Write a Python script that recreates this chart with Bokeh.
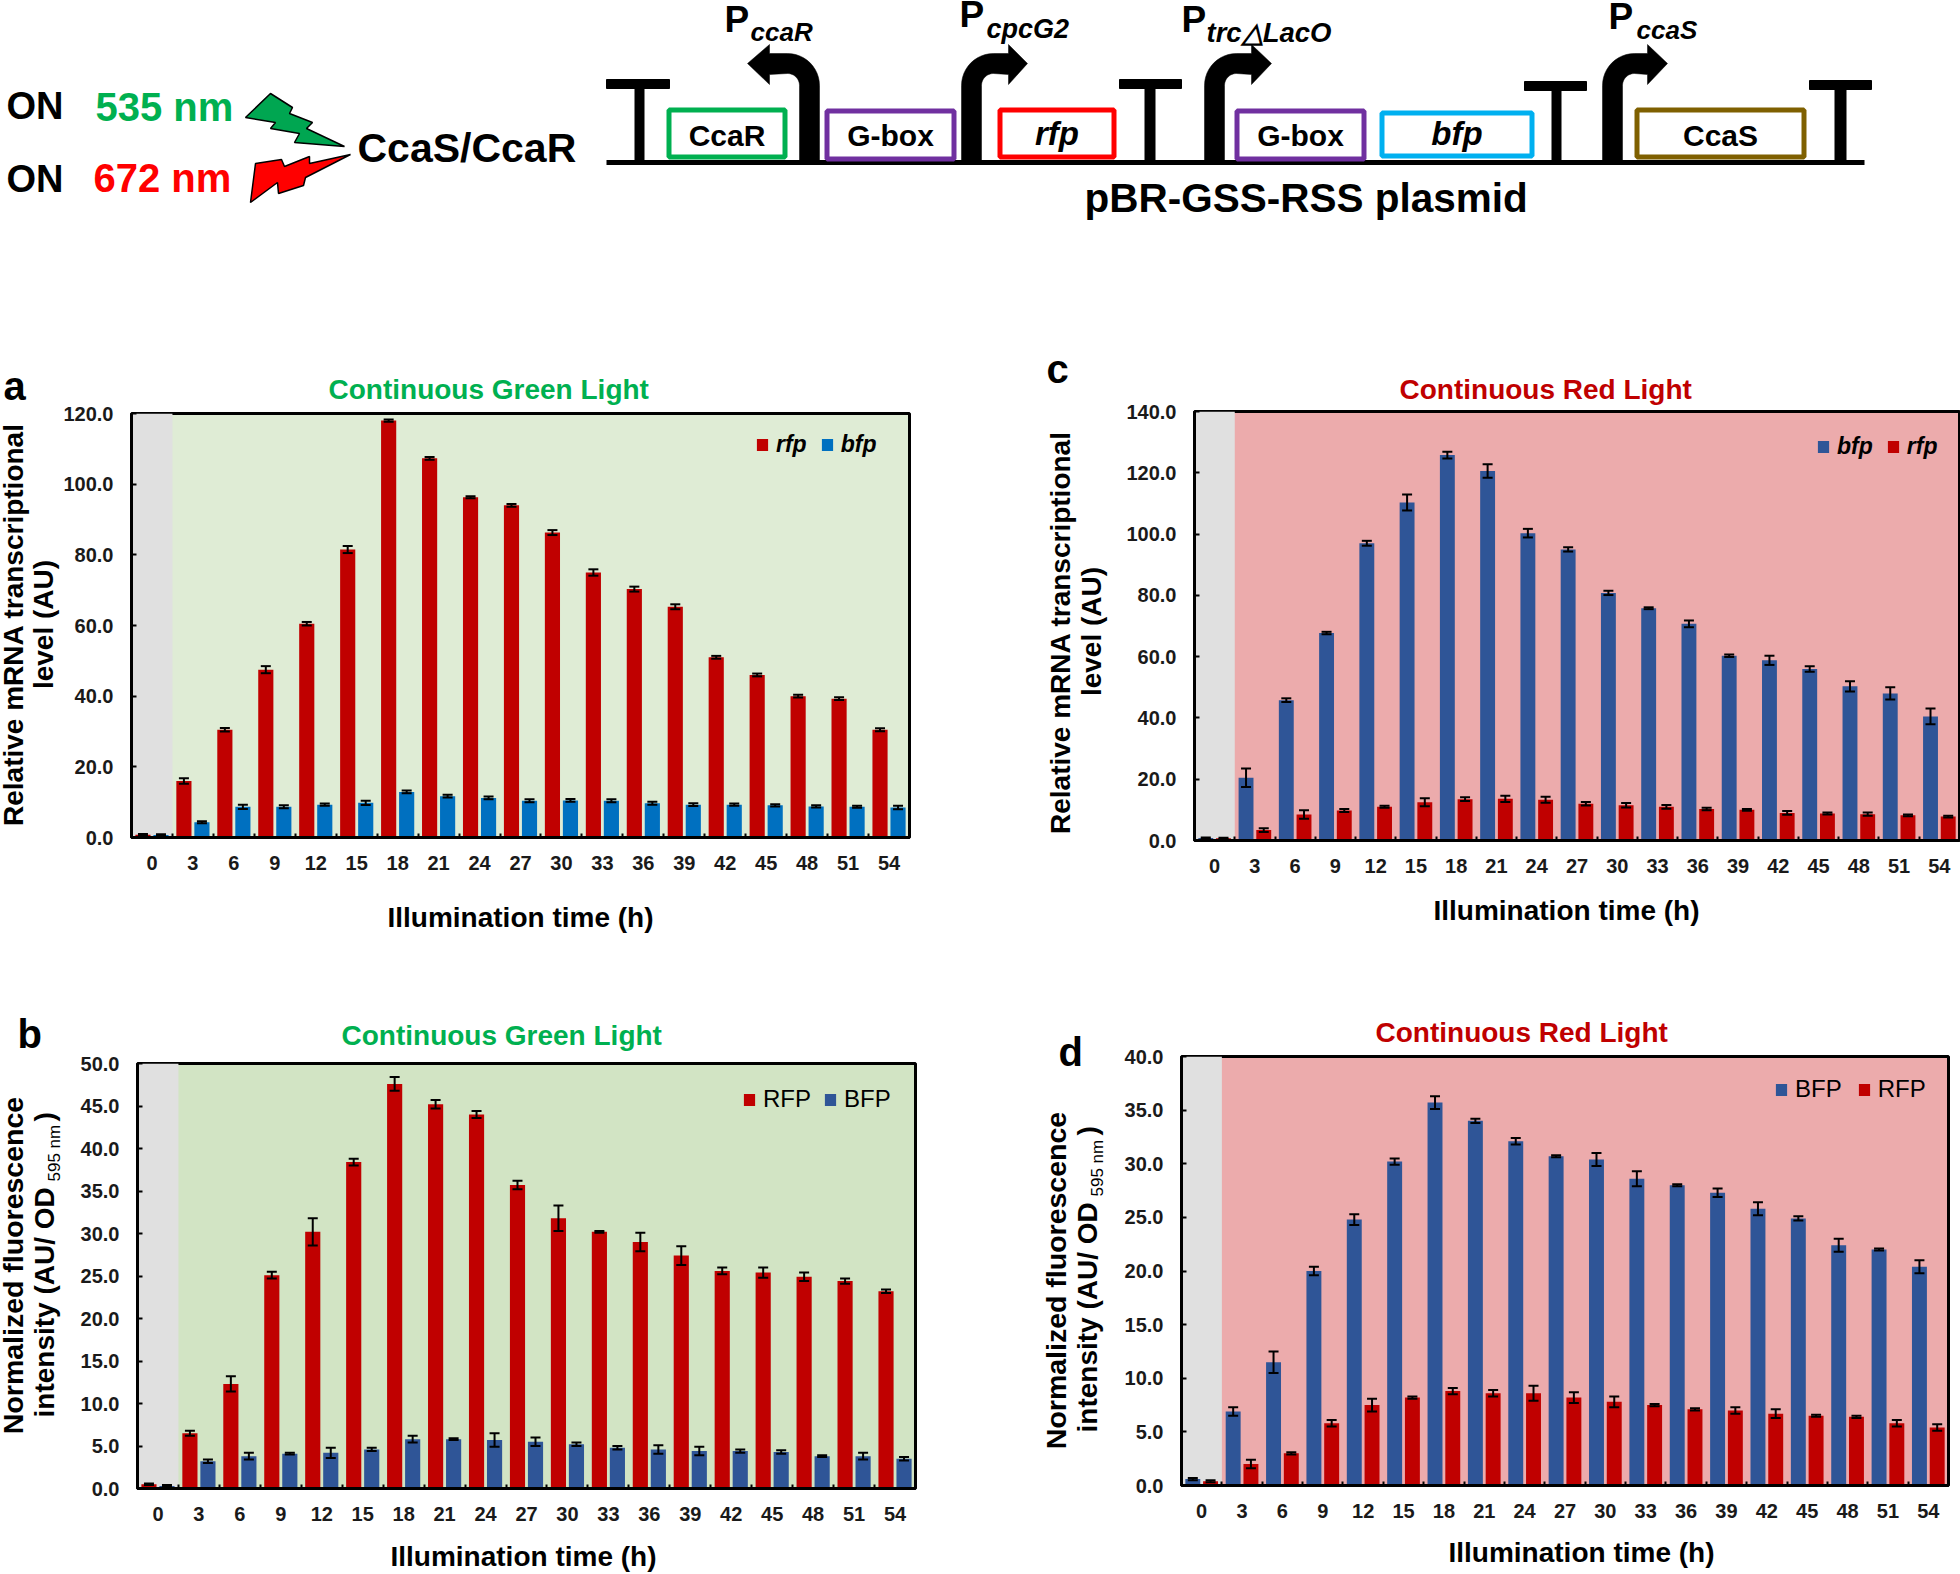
import math
from bokeh.plotting import figure
from bokeh.layouts import column, row
from bokeh.models import (ColumnDataSource, FixedTicker, Label, Legend, LegendItem, Whisker, TeeHead,
                          BoxAnnotation, Title, NumeralTickFormatter)
from bokeh.embed import file_html
from bokeh.resources import INLINE

FONT = "Liberation Sans"
hours = ["0","3","6","9","12","15","18","21","24","27","30","33","36","39","42","45","48","51","54"]

# panel a
a_rfp = [0.8,16,30.5,47.5,60.5,81.5,118,107.3,96.3,94,86.3,75,70.3,65.3,51,46,40,39.3,30.5]
a_rfp_err = [0.2,0.8,0.5,1.0,0.5,1.0,0.3,0.4,0.3,0.4,0.7,0.9,0.7,0.7,0.4,0.4,0.4,0.4,0.4]
a_bfp = [0.7,4.3,8.7,8.7,9.3,9.8,12.9,11.7,11.2,10.4,10.5,10.4,9.7,9.3,9.3,9.1,8.8,8.7,8.5]
a_bfp_err = [0.2,0.3,0.6,0.4,0.3,0.6,0.4,0.4,0.4,0.4,0.4,0.4,0.4,0.4,0.3,0.3,0.3,0.3,0.5]
# panel b
b_rfp = [0.5,6.5,12.3,25.1,30.2,38.4,47.6,45.2,44,35.7,31.8,30.2,29,27.4,25.6,25.4,24.9,24.4,23.2]
b_rfp_err = [0.1,0.3,0.9,0.4,1.6,0.4,0.8,0.5,0.4,0.5,1.5,0.1,1.1,1.1,0.4,0.6,0.5,0.3,0.2]
b_bfp = [0.3,3.2,3.8,4.1,4.2,4.6,5.8,5.8,5.7,5.5,5.2,4.8,4.6,4.4,4.4,4.3,3.8,3.8,3.5]
b_bfp_err = [0.1,0.2,0.4,0.1,0.6,0.2,0.4,0.1,0.8,0.5,0.2,0.2,0.5,0.5,0.2,0.2,0.1,0.4,0.2]
# panel c
c_bfp = [0.8,20.5,45.8,67.7,97,110.3,125.8,120.6,100.3,95,80.8,75.8,70.7,60.3,58.8,56,50.3,48,40.5]
c_bfp_err = [0.2,3,0.6,0.4,0.8,2.6,1.1,2.2,1.4,0.7,0.7,0.3,1.1,0.4,1.5,0.9,1.7,2,2.6]
c_rfp = [0.7,3.4,8.5,9.8,11,12.5,13.5,13.6,13.3,12,11.5,11,10.3,10,9,8.8,8.6,8.2,7.8]
c_rfp_err = [0.2,0.6,1.4,0.5,0.3,1.3,0.6,1.0,1.0,0.6,0.7,0.6,0.4,0.3,0.6,0.3,0.5,0.3,0.3]
# panel d
d_bfp = [0.6,6.9,11.5,20,24.8,30.2,35.7,34,32.1,30.7,30.4,28.6,28,27.3,25.8,24.9,22.4,22,20.4]
d_bfp_err = [0.1,0.4,1.0,0.4,0.5,0.3,0.6,0.2,0.3,0.1,0.6,0.7,0.1,0.4,0.6,0.2,0.6,0.1,0.6]
d_rfp = [0.4,2,3,5.8,7.5,8.2,8.8,8.6,8.6,8.2,7.8,7.5,7.1,7,6.7,6.5,6.4,5.8,5.4]
d_rfp_err = [0.1,0.4,0.1,0.3,0.6,0.1,0.3,0.3,0.7,0.5,0.5,0.1,0.1,0.3,0.4,0.1,0.1,0.3,0.3]

a_yticks = [0,20,40,60,80,100,120]
b_yticks = [0,5,10,15,20,25,30,35,40,45,50]
c_yticks = [0,20,40,60,80,100,120,140]
d_yticks = [0,5,10,15,20,25,30,35,40]

RED = "#C00000"; BLUE = "#0070C0"; NAVY = "#2F5597"
GREEN_TXT = "#00B050"
GREEN_BG1 = "#DFECD5"; GREEN_BG2 = "#D2E4C4"; RED_BG = "#ECABAC"; GRAY = "#E0E0E0"

ROW2_Y, LEFT_W = 985, 1030
TOTAL_W, TOTAL_H = 1960, 1574
K = 0.38

# the full-page figure carries the schematic and every free text; the panels sit on top of it
d = figure(width=TOTAL_W, height=TOTAL_H, x_range=(0, TOTAL_W), y_range=(TOTAL_H, 0), toolbar_location=None,
           output_backend="svg", min_border=0, outline_line_color=None, x_axis_location=None, y_axis_location=None)
d.grid.visible = False


def lab(x, y, text, size, color="black", bold=False, italic=False, angle=0.0, align="left"):
    style = "bold italic" if bold and italic else "bold" if bold else "italic" if italic else "normal"
    if angle:
        x -= K * size
    else:
        y -= K * size
    d.add_layout(Label(x=x, y=TOTAL_H - y, x_units="screen", y_units="screen", text=text,
                       text_font=FONT, text_font_size=f"{size}px", text_font_style=style,
                       text_color=color, text_align=align, text_baseline="alphabetic", angle=angle))


def panel(ox, oy, w, h, box, ymax, yticks, first, second, names, colors, bg, title, tcolor, toff, tstand,
          legend_pos, leg_style, leg_spacing):
    L, R, T, B = box
    p = figure(width=w, height=h, x_range=(0, 19), y_range=(0, ymax), toolbar_location=None,
               output_backend="svg", frame_align=False, min_border_left=L - ox, min_border_right=ox + w - R,
               min_border_top=T - oy, min_border_bottom=oy + h - B)
    p.background_fill_color = bg
    p.border_fill_color = None
    p.grid.visible = False
    p.outline_line_color = "black"
    p.outline_line_width = 3
    p.add_layout(BoxAnnotation(left=0, right=1, fill_color=GRAY, fill_alpha=1, line_alpha=0, level="underlay"))
    centers = [i + 0.5 for i in range(19)]
    rends = []
    for off, (vals, errs), col in zip((-0.22, 0.22), (first, second), colors):
        xs = [c + off for c in centers]
        src = ColumnDataSource(dict(x=xs, top=vals, up=[v + e for v, e in zip(vals, errs)],
                                    lo=[v - e for v, e in zip(vals, errs)]))
        r = p.vbar(x="x", top="top", bottom=0, width=0.37, fill_color=col, line_color=None, source=src)
        rends.append(r)
        p.add_layout(Whisker(base="x", upper="up", lower="lo", source=src, line_color="black", line_width=2,
                             level="overlay",
                             upper_head=TeeHead(size=10, line_color="black", line_width=2),
                             lower_head=TeeHead(size=10, line_color="black", line_width=2)))
    xa = p.xaxis[0]
    xa.ticker = FixedTicker(ticks=centers, minor_ticks=list(range(20)))
    xa.major_label_overrides = {c: t for c, t in zip(centers, hours)}
    xa.major_tick_in = 0; xa.major_tick_out = 0
    xa.minor_tick_in = 4; xa.minor_tick_out = 0
    xa.minor_tick_line_color = "black"; xa.minor_tick_line_width = 2
    xa.axis_line_width = 3
    xa.major_label_text_font = FONT; xa.major_label_text_font_size = "20px"
    xa.major_label_text_font_style = "bold"; xa.major_label_text_color = "#1a1a1a"
    xa.major_label_standoff = 18
    ya = p.yaxis[0]
    ya.ticker = FixedTicker(ticks=yticks)
    ya.formatter = NumeralTickFormatter(format="0.0")
    ya.major_tick_in = 5; ya.major_tick_out = 0; ya.major_tick_line_width = 2
    ya.minor_tick_in = 0; ya.minor_tick_out = 0
    ya.axis_line_width = 3
    ya.major_label_text_font = FONT; ya.major_label_text_font_size = "20px"
    ya.major_label_text_font_style = "bold"; ya.major_label_text_color = "#1a1a1a"
    ya.major_label_standoff = 18
    p.title = Title(text=title, align="left", offset=toff, text_color=tcolor, text_font=FONT,
                    text_font_size="28px", text_font_style="bold", standoff=tstand)
    items = [LegendItem(label=n, renderers=[r]) for n, r in zip(names, rends)]
    leg = Legend(items=items, orientation="horizontal", location=legend_pos, padding=0, margin=0,
                 spacing=leg_spacing, glyph_width=14, glyph_height=15, label_standoff=7,
                 background_fill_alpha=0, border_line_alpha=0, label_text_font=FONT,
                 label_text_font_size="24px" if leg_style == "normal" else "23px",
                 label_text_font_style=leg_style, label_text_color="black")
    p.add_layout(leg)
    return p


# panel a
pa = panel(0, 0, LEFT_W, ROW2_Y, (131, 909, 413, 837), 120, a_yticks,
           (a_rfp, a_rfp_err), (a_bfp, a_bfp_err), ["rfp", "bfp"], (RED, BLUE), GREEN_BG1,
           "Continuous Green Light", GREEN_TXT, 197, 18, (624, 379), "bold italic", 13)
lab(3, 401, "a", 40, bold=True)
lab(24, 624, "Relative mRNA transcriptional", 28, bold=True, angle=math.pi / 2, align="center")
lab(54, 624, "level (AU)", 28, bold=True, angle=math.pi / 2, align="center")
lab(520, 928, "Illumination time (h)", 28, bold=True, align="center")

# panel c
pc = panel(LEFT_W, 0, TOTAL_W - LEFT_W, ROW2_Y, (1194, 1959, 411, 840), 140, c_yticks,
           (c_bfp, c_bfp_err), (c_rfp, c_rfp_err), ["bfp", "rfp"], (NAVY, RED), RED_BG,
           "Continuous Red Light", RED, 205, 14, (622, 380), "bold italic", 13)
lab(1046, 384, "c", 40, bold=True)
lab(1071, 632, "Relative mRNA transcriptional", 28, bold=True, angle=math.pi / 2, align="center")
lab(1102, 631, "level (AU)", 28, bold=True, angle=math.pi / 2, align="center")
lab(1566, 921, "Illumination time (h)", 28, bold=True, align="center")

# panel b
pb = panel(0, ROW2_Y, LEFT_W, TOTAL_H - ROW2_Y, (137, 915, 1063, 1488), 50, b_yticks,
           (b_rfp, b_rfp_err), (b_bfp, b_bfp_err), ["RFP", "BFP"], (RED, NAVY), GREEN_BG2,
           "Continuous Green Light", GREEN_TXT, 204, 25, (605, 375), "normal", 12)
lab(17, 1049, "b", 40, bold=True)
lab(23, 1265, "Normalized fluorescence", 28.5, bold=True, angle=math.pi / 2, align="center")
lab(55, 1417, "intensity (AU/ OD", 28, bold=True, angle=math.pi / 2)
lab(60, 1181, "595 nm", 17, angle=math.pi / 2)
lab(55, 1121, ")", 28, bold=True, angle=math.pi / 2)
lab(523, 1567, "Illumination time (h)", 28, bold=True, align="center")

# panel d
pd_ = panel(LEFT_W, ROW2_Y, TOTAL_W - LEFT_W, TOTAL_H - ROW2_Y, (1181, 1948, 1056, 1485), 40, d_yticks,
            (d_bfp, d_bfp_err), (d_rfp, d_rfp_err), ["BFP", "RFP"], (NAVY, RED), RED_BG,
            "Continuous Red Light", RED, 194, 18, (593, 382), "normal", 15)
lab(1058, 1067, "d", 40, bold=True)
lab(1066, 1280, "Normalized fluorescence", 28.5, bold=True, angle=math.pi / 2, align="center")
lab(1098, 1432, "intensity (AU/ OD", 28, bold=True, angle=math.pi / 2)
lab(1103, 1196, "595 nm", 17, angle=math.pi / 2)
lab(1098, 1135, ")", 28, bold=True, angle=math.pi / 2)
lab(1581, 1563, "Illumination time (h)", 28, bold=True, align="center")

# schematic
bolt_green_x = [270,292,289,312,306,344,294,299,270,275,245]
bolt_green_y = [93,107,113,122,128,146,142,133,128,122,117]
bolt_red_x = [255,281,284,309,309,350,305,303,278,277,250]
bolt_red_y = [163,159,166,156,163,154,177,185,193,182,202]
d.patch(bolt_green_x, bolt_green_y, fill_color="#00A651", line_color="black", line_width=1.5)
d.patch(bolt_red_x, bolt_red_y, fill_color="#FF0000", line_color="black", line_width=1.5)

d.quad(left=[606], right=[1864], top=[159.5], bottom=[164.5], fill_color="black", line_color=None)
term_x = [(606,669,634,644),(1119,1181,1144,1155),(1524,1586,1551,1561),(1809,1871,1834,1846)]
term_y = [79,79,81,80]
for (l, r, sl, sr), ty in zip(term_x, term_y):
    d.quad(left=[l], right=[r], top=[ty], bottom=[ty + 9], fill_color="black", line_color="black", line_width=1)
    d.quad(left=[sl], right=[sr], top=[ty], bottom=[162], fill_color="black", line_color=None)


def bent(x0, xback, xtip, s=1, R=32, ytop=53, yin=74, ymid=63, hy0=44, hy1=84, base=162):
    x1 = x0 + s * 20
    cx, cy = x0 + s * R, ytop + R
    r = R - 20
    xs = [x0]; ys = [base]
    for i in range(13):
        t = math.pi * i / 24
        xs.append(cx - s * R * math.cos(t)); ys.append(cy - R * math.sin(t))
    xs += [xback, xback, xtip, xback, xback]; ys += [ytop, hy0, ymid, hy1, yin]
    for i in range(12, -1, -1):
        t = math.pi * i / 24
        xs.append(cx - s * r * math.cos(t)); ys.append(cy - r * math.sin(t))
    xs.append(x1); ys.append(base)
    return xs, ys


for args in [(819, 769, 747, -1), (961, 1008, 1027, 1), (1204, 1251, 1271, 1), (1602, 1647, 1667, 1)]:
    xs, ys = bent(*args)
    d.patch(xs, ys, fill_color="black", line_color="black", line_width=0.5)

boxes = [("CcaR",666,787,107,159,"#00B050",False,30),("G-box",824,956,108,161,"#7030A0",False,30),
         ("rfp",997,1116,107,159,"#FF0000",True,33),("G-box",1234,1366,108,161,"#7030A0",False,30),
         ("bfp",1379,1534,110,158,"#00B0F0",True,33),("CcaS",1634,1806,107,159,"#7F6000",False,30)]
for name, l, r, t, b, col, it, fs in boxes:
    d.quad(left=[l + 2.5], right=[r - 2.5], top=[t + 2.5], bottom=[b - 2.5], fill_color="white",
           line_color=col, line_width=5)
    lab((l + r) / 2, 146, name, fs, bold=True, italic=it, align="center")

lab(6, 120, "ON", 38, bold=True)
lab(6, 193, "ON", 38, bold=True)
lab(95, 122, "535 nm", 40, color="#00B050", bold=True)
lab(93, 193, "672 nm", 40, color="#FF0000", bold=True)
lab(357, 163, "CcaS/CcaR", 41, bold=True)
lab(1084, 213, "pBR-GSS-RSS plasmid", 40.5, bold=True)

promoters = [(724,33,"ccaR",750,41,26),(959,28,"cpcG2",986,39,27),(1181,33,"trc△LacO",1206,42,27.5),(1608,30,"ccaS",1636,39,26)]
for px, py, sub, sx, sy, fs in promoters:
    lab(px, py, "P", 37, bold=True)
    lab(sx, sy, sub, fs, bold=True, italic=True)

panels = column(row(pa, pc, spacing=0), row(pb, pd_, spacing=0), spacing=0, margin=(-TOTAL_H, 0, 0, 0))
root = column(d, panels, spacing=0)
open("out.html", "w").write(file_html(root, INLINE))
